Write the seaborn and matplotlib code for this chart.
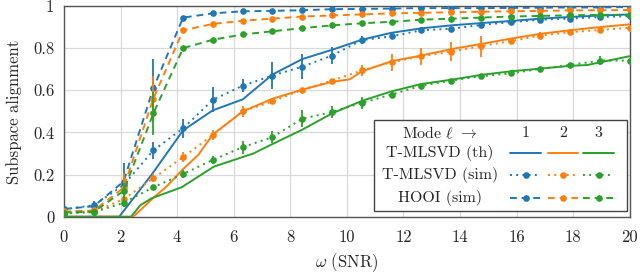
import matplotlib
matplotlib.use("Agg")
import matplotlib.pyplot as plt
import seaborn as sns
import numpy as np
import pandas as pd
from matplotlib.lines import Line2D
from matplotlib.patches import Rectangle

# ---------------- data ----------------
snr_sim = [0.0, 1.053, 2.105, 3.158, 4.211, 5.263, 6.316, 7.368, 8.421, 9.474,
           10.526, 11.579, 12.632, 13.684, 14.737, 15.789, 16.842, 17.895, 18.947, 20.0]

th1_x = [0, 1.95, 3.1, 4.21, 5.26, 6.32, 7.37, 8.42, 9.47, 10.53, 11.58, 12.63,
         13.68, 14.74, 15.79, 16.84, 17.89, 18.95, 20]
th1_y = [0, 0, 0.2, 0.41, 0.505, 0.557, 0.675, 0.748, 0.792, 0.84, 0.873, 0.894,
         0.908, 0.919, 0.929, 0.94, 0.948, 0.955, 0.96]
th2_x = [0, 2.45, 3.2, 3.6, 4.2, 4.75, 5.26, 6.32, 7.37, 8.42, 9.47, 10.1, 10.53,
         11.58, 12.63, 13.68, 14.74, 15.79, 16.84, 17.89, 18.95, 20]
th2_y = [0, 0, 0.095, 0.14, 0.225, 0.294, 0.39, 0.50, 0.56, 0.603, 0.64, 0.652, 0.69,
         0.738, 0.765, 0.795, 0.82, 0.845, 0.868, 0.885, 0.9, 0.913]
th3_x = [0, 2.37, 2.7, 3.1, 4.16, 5.3, 6.69, 7.37, 8.42, 9.47, 10.53, 11.58, 12.63,
         13.68, 14.74, 15.79, 16.84, 17.89, 18.5, 20]
th3_y = [0, 0, 0.055, 0.088, 0.14, 0.238, 0.30, 0.345, 0.413, 0.49, 0.55, 0.595, 0.63,
         0.65, 0.673, 0.69, 0.703, 0.716, 0.72, 0.762]

sim1 = [0.035, 0.055, 0.15, 0.315, 0.42, 0.555, 0.622, 0.67, 0.712, 0.765,
        0.838, 0.856, 0.885, 0.892, 0.91, 0.923, 0.935, 0.94, 0.948, 0.952]
sim1_err = [0.01, 0.02, 0.05, 0.04, 0.045, 0.06, 0.03, 0.065, 0.06, 0.04,
            0.02, 0.01, 0.015, 0.01, 0.01, 0.01, 0.01, 0.01, 0.01, 0.01]
sim2 = [0.02, 0.025, 0.083, 0.183, 0.283, 0.388, 0.5, 0.547, 0.603, 0.646,
        0.694, 0.733, 0.762, 0.783, 0.81, 0.833, 0.86, 0.876, 0.886, 0.897]
sim2_err = [0.005, 0.01, 0.02, 0.02, 0.025, 0.025, 0.025, 0.01, 0.01, 0.01,
            0.025, 0.04, 0.04, 0.045, 0.05, 0.015, 0.015, 0.01, 0.01, 0.01]
sim3 = [0.015, 0.022, 0.066, 0.14, 0.203, 0.27, 0.33, 0.378, 0.465, 0.497,
        0.54, 0.58, 0.622, 0.646, 0.667, 0.68, 0.702, 0.72, 0.741, 0.741]
sim3_err = [0.005, 0.01, 0.02, 0.01, 0.02, 0.02, 0.03, 0.03, 0.04, 0.03,
            0.03, 0.015, 0.01, 0.01, 0.01, 0.01, 0.01, 0.01, 0.02, 0.01]

hooi1 = [0.037, 0.05, 0.167, 0.61, 0.945, 0.965, 0.975, 0.977, 0.98, 0.985,
         0.986, 0.988, 0.99, 0.99, 0.99, 0.991, 0.992, 0.993, 0.993, 0.995]
hooi1_err = [0.01, 0.02, 0.09, 0.14, 0.005, 0.005, 0.005, 0.005, 0.005, 0.005,
             0.005, 0.005, 0.005, 0.005, 0.005, 0.005, 0.005, 0.005, 0.005, 0.005]
hooi2 = [0.025, 0.03, 0.137, 0.56, 0.885, 0.915, 0.93, 0.94, 0.95, 0.955,
         0.96, 0.965, 0.968, 0.97, 0.973, 0.975, 0.977, 0.979, 0.98, 0.981]
hooi2_err = [0.005, 0.01, 0.07, 0.11, 0.005, 0.005, 0.005, 0.005, 0.005, 0.005,
             0.005, 0.005, 0.005, 0.005, 0.005, 0.005, 0.005, 0.005, 0.005, 0.005]
hooi3 = [0.02, 0.024, 0.122, 0.49, 0.80, 0.84, 0.865, 0.88, 0.895, 0.908,
         0.918, 0.925, 0.935, 0.94, 0.945, 0.95, 0.953, 0.956, 0.958, 0.958]
hooi3_err = [0.005, 0.01, 0.04, 0.10, 0.005, 0.005, 0.005, 0.005, 0.005, 0.005,
             0.005, 0.005, 0.005, 0.005, 0.005, 0.005, 0.005, 0.005, 0.005, 0.005]

colors = ["#1f77b4", "#ff7f0e", "#2ca02c"]
x_ticks = [0, 2, 4, 6, 8, 10, 12, 14, 16, 18, 20]
y_ticks = [0, 0.2, 0.4, 0.6, 0.8, 1]
y_tick_labels = ["0", "0.2", "0.4", "0.6", "0.8", "1"]

# ---------------- style ----------------
sns.set_theme(style="whitegrid")
plt.rcParams["font.family"] = ["cmr10", "DejaVu Serif"]
plt.rcParams["mathtext.fontset"] = "cm"
plt.rcParams["axes.formatter.use_mathtext"] = True
plt.rcParams["axes.unicode_minus"] = False

fig = plt.figure(figsize=(6.4, 2.73), dpi=100)
ax = fig.add_axes([0.1, 0.206, 0.884, 0.772])

lw = 1.4
ms = 4.8
fs = 12
theory = [(th1_x, th1_y), (th2_x, th2_y), (th3_x, th3_y)]
sims = [(sim1, sim1_err), (sim2, sim2_err), (sim3, sim3_err)]
hoois = [(hooi1, hooi1_err), (hooi2, hooi2_err), (hooi3, hooi3_err)]

for i, c in enumerate(colors):
    tx, ty = theory[i]
    df_t = pd.DataFrame({"x": tx, "y": ty})
    sns.lineplot(data=df_t, x="x", y="y", ax=ax, color=c, lw=lw, sort=False,
                 estimator=None, zorder=3)
for i, c in enumerate(colors):
    v, e = sims[i]
    df_s = pd.DataFrame({"x": snr_sim, "y": v})
    sns.lineplot(data=df_s, x="x", y="y", ax=ax, color=c, lw=lw, linestyle=(0, (1, 2.2)),
                 marker="o", markersize=ms, markeredgewidth=0, estimator=None, zorder=4)
    ax.errorbar(snr_sim, v, yerr=e, fmt="none", ecolor=c, elinewidth=1.3, capsize=0, zorder=4)
    h, he = hoois[i]
    df_h = pd.DataFrame({"x": snr_sim, "y": h})
    sns.lineplot(data=df_h, x="x", y="y", ax=ax, color=c, lw=lw, linestyle=(0, (3.5, 2.5)),
                 marker="o", markersize=ms, markeredgewidth=0, estimator=None, zorder=4)
    ax.errorbar(snr_sim, h, yerr=he, fmt="none", ecolor=c, elinewidth=1.3, capsize=0, zorder=4)

ax.set_xlim(0, 20)
ax.set_ylim(0, 1)
ax.set_xticks(x_ticks)
ax.set_xticklabels([str(t) for t in x_ticks])
ax.set_yticks(y_ticks)
ax.set_yticklabels(y_tick_labels)
ax.tick_params(axis="both", labelsize=fs, length=4, width=0.9, color="#555555",
               direction="out")
ax.tick_params(axis="x", pad=5)
ax.tick_params(axis="y", pad=3)
ax.set_xlabel(r"$\omega$ (SNR)", fontsize=fs, labelpad=5)
ax.set_ylabel("Subspace alignment", fontsize=fs, labelpad=8)
ax.grid(True, color="#d9d9d9", lw=0.9)
ax.set_facecolor("white")
for s in ax.spines.values():
    s.set_visible(True)
    s.set_color("#555555")
    s.set_linewidth(1.0)

# ---------------- custom table legend ----------------
T = ax.transAxes
lfs = 11.5
box = Rectangle((0.548, 0.027), 0.447, 0.434, transform=T, facecolor="white",
                edgecolor="#444444", lw=1.0, zorder=10)
ax.add_patch(box)
rows_y = [0.396, 0.301, 0.198, 0.087]
row_labels = [r"Mode $\ell$ $\rightarrow$", "T-MLSVD (th)", "T-MLSVD (sim)", "HOOI (sim)"]
for ry, lab in zip(rows_y, row_labels):
    ax.text(0.664, ry, lab, transform=T, ha="center", va="center", fontsize=lfs, zorder=11)
col_x = [0.816, 0.882, 0.945]
hw = 0.027
for ci, (cx, c) in enumerate(zip(col_x, colors)):
    ax.text(cx, rows_y[0], str(ci + 1), transform=T, ha="center", va="center",
            fontsize=lfs, zorder=11)
    ax.add_line(Line2D([cx - hw, cx + hw], [rows_y[1]] * 2, transform=T, color=c, lw=lw, zorder=11))
    ax.add_line(Line2D([cx - hw, cx, cx + hw], [rows_y[2]] * 3, transform=T, color=c, lw=lw,
                       linestyle=(0, (1, 2.2)), zorder=11))
    ax.add_line(Line2D([cx], [rows_y[2]], transform=T, color=c, marker="o", ms=ms, mew=0, zorder=12))
    ax.add_line(Line2D([cx - hw, cx + hw], [rows_y[3]] * 2, transform=T, color=c, lw=lw,
                       linestyle=(0, (3.5, 2.5)), zorder=11))
    ax.add_line(Line2D([cx], [rows_y[3]], transform=T, color=c, marker="o", ms=ms, mew=0, zorder=12))

fig.savefig("out.png", dpi=100)
